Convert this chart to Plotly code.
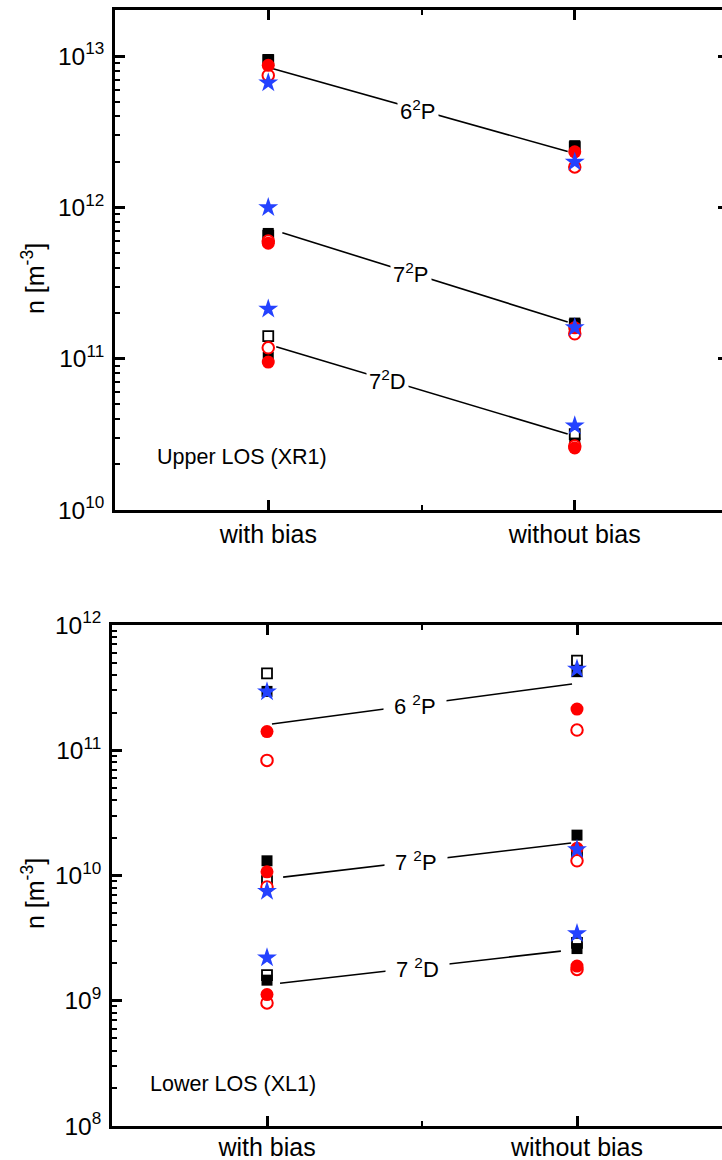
import plotly.graph_objects as go
import numpy as np

# ---------------- data ----------------
categories = ["with bias", "without bias"]
cat_x = [1, 2]
levels = ["6<sup>2</sup>P", "7<sup>2</sup>P", "7<sup>2</sup>D"]
levels_lower = ["6 <sup>2</sup>P", "7 <sup>2</sup>P", "7 <sup>2</sup>D"]

# Upper LOS (XR1): values per series, ordered [6P with, 6P without, 7P with, 7P without, 7D with, 7D without]
up_sq_open   = [9.4e12, 2.50e12, 6.5e11, 1.68e11, 1.41e11, 3.17e10]
up_sq_fill   = [9.5e12, 2.56e12, 6.73e11, 1.72e11, 1.02e11, 2.77e10]
up_ci_open   = [7.45e12, 1.85e12, 6.0e11, 1.46e11, 1.18e11, 2.65e10]
up_ci_fill   = [8.7e12, 2.33e12, 5.8e11, 1.60e11, 9.5e10, 2.57e10]
up_star      = [6.67e12, 2.0e12, 1.0e12, 1.61e11, 2.13e11, 3.6e10]

# Lower LOS (XL1)
lo_sq_open   = [4.11e11, 5.19e11, 9.0e9, 1.55e10, 1.6e9, 2.9e9]
lo_sq_fill   = [2.95e11, 4.24e11, 1.31e10, 2.1e10, 1.46e9, 2.61e9]
lo_ci_open   = [8.3e10, 1.45e11, 8.1e9, 1.31e10, 9.6e8, 1.78e9]
lo_ci_fill   = [1.41e11, 2.13e11, 1.07e10, 1.65e10, 1.12e9, 1.89e9]
lo_star      = [2.93e11, 4.46e11, 7.5e9, 1.61e10, 2.2e9, 3.44e9]

# trend lines [start, end] (x, value)
up_line_x = [[1.013, 1.977], [1.046, 1.977], [1.026, 1.977]]
up_line_y = [[8.29e12, 2.34e12], [6.8e11, 1.75e11], [1.2e11, 3.18e10]]
lo_line_x = [[1.016, 1.984], [1.052, 1.981], [1.042, 1.948]]
lo_line_y = [[1.62e11, 3.38e11], [9.7e9, 1.82e10], [1.38e9, 2.49e9]]
up_label_x = [1.49, 1.466, 1.389]
lo_label_x = [1.477, 1.482, 1.485]

# ---------------- styling ----------------
FONT = "Liberation Sans, Arial, sans-serif"
W, H = 740, 1160
BLUE = "#2442ff"
RED = "#ff0000"

series = [
    ("sq_open", dict(symbol="square", size=10, color="white", line=dict(color="black", width=1.8))),
    ("sq_fill", dict(symbol="square", size=11, color="black", line=dict(width=0))),
    ("ci_open", dict(symbol="circle", size=11.5, color="white", line=dict(color=RED, width=2))),
    ("ci_fill", dict(symbol="circle", size=13, color=RED, line=dict(width=0))),
    ("star", dict(symbol="star", size=15, color=BLUE, line=dict(width=0))),
]
upper = dict(sq_open=up_sq_open, sq_fill=up_sq_fill, ci_open=up_ci_open, ci_fill=up_ci_fill, star=up_star)
lower = dict(sq_open=lo_sq_open, sq_fill=lo_sq_fill, ci_open=lo_ci_open, ci_fill=lo_ci_fill, star=lo_star)

fig = go.Figure()

def add_panel(data, line_x, line_y, xa, ya):
    for lx, ly in zip(line_x, line_y):
        fig.add_trace(go.Scatter(x=lx, y=ly, mode="lines", xaxis=xa, yaxis=ya,
                                 line=dict(color="black", width=1.6), showlegend=False,
                                 hoverinfo="skip"))
    for key, mk in series:
        vals = data[key]
        xs = [cat_x[i % 2] for i in range(len(vals))]
        fig.add_trace(go.Scatter(x=xs, y=vals, mode="markers", xaxis=xa, yaxis=ya,
                                 marker=mk, showlegend=False))

add_panel(upper, up_line_x, up_line_y, "x", "y")
add_panel(lower, lo_line_x, lo_line_y, "x2", "y2")

def label_y(lx, ly, xpos):
    t = (xpos - lx[0]) / (lx[1] - lx[0])
    return np.log10(ly[0]) + t * (np.log10(ly[1]) - np.log10(ly[0]))

annotations = []
for txt, lx, ly, xp in zip(levels, up_line_x, up_line_y, up_label_x):
    annotations.append(dict(x=xp, y=label_y(lx, ly, xp), xref="x", yref="y", text=txt,
                            showarrow=False, bgcolor="white", borderpad=2,
                            font=dict(family=FONT, size=22, color="black")))
for txt, lx, ly, xp in zip(levels_lower, lo_line_x, lo_line_y, lo_label_x):
    annotations.append(dict(x=xp, y=label_y(lx, ly, xp), xref="x2", yref="y2", text=txt,
                            showarrow=False, bgcolor="white", borderpad=10,
                            font=dict(family=FONT, size=22, color="black")))

annotations += [
    dict(x=155 / W, y=1 - 457 / H, xref="paper", yref="paper", xanchor="left", yanchor="middle",
         text="Upper LOS (XR1)", showarrow=False, font=dict(family=FONT, size=21.5, color="black")),
    dict(x=148 / W, y=1 - 1084 / H, xref="paper", yref="paper", xanchor="left", yanchor="middle",
         text="Lower LOS (XL1)", showarrow=False, font=dict(family=FONT, size=21.5, color="black")),
    dict(x=33 / W, y=1 - 279 / H, xref="paper", yref="paper", xanchor="center", yanchor="middle",
         text="n [m<sup>-3</sup>]", textangle=-90, showarrow=False,
         font=dict(family=FONT, size=25, color="black")),
    dict(x=33 / W, y=1 - 894 / H, xref="paper", yref="paper", xanchor="center", yanchor="middle",
         text="n [m<sup>-3</sup>]", textangle=-90, showarrow=False,
         font=dict(family=FONT, size=25, color="black")),
]

def xaxis_cfg(domain, standoff):
    return dict(domain=domain, range=[0.5, 2.5], tickvals=cat_x, ticktext=categories,
                ticks="inside", ticklen=10, tickwidth=2.5, tickcolor="black",
                minor=dict(tickvals=[1.5], ticks="inside", ticklen=5, tickwidth=2, tickcolor="black"),
                showline=True, linewidth=2.7, linecolor="black", mirror="ticks",
                showgrid=False, zeroline=False, ticklabelstandoff=standoff,
                tickfont=dict(family=FONT, size=25, color="black"), automargin=False)

def yaxis_cfg(domain, lo, hi, anchor):
    decades = list(range(int(np.floor(lo)), int(np.ceil(hi)) + 1))
    major = [10.0 ** d for d in decades if lo <= d <= hi]
    minor = [k * 10.0 ** d for d in decades for k in range(2, 10) if np.log10(k * 10.0 ** d) <= hi]
    return dict(domain=domain, type="log", range=[lo, hi], anchor=anchor,
                tickvals=major, ticktext=[f"10<sup>{d}</sup>" for d in decades if lo <= d <= hi],
                ticks="inside", ticklen=10, tickwidth=2.5, tickcolor="black",
                minor=dict(tickvals=minor, ticks="inside", ticklen=5, tickwidth=2, tickcolor="black"),
                showline=True, linewidth=2.7, linecolor="black", mirror="ticks",
                showgrid=False, zeroline=False, ticklabelstandoff=3,
                tickfont=dict(family=FONT, size=24.5, color="black"), automargin=False)

fig.update_layout(
    width=W, height=H, margin=dict(l=0, r=0, t=0, b=0),
    paper_bgcolor="white", plot_bgcolor="white", showlegend=False,
    xaxis=dict(xaxis_cfg([115 / W, 728 / W], 0), anchor="y"),
    yaxis=yaxis_cfg([1 - 510 / H, 1 - 10 / H], 10, 13.305, "x"),
    xaxis2=dict(xaxis_cfg([112 / W, 732 / W], -3), anchor="y2"),
    yaxis2=yaxis_cfg([1 - 1126 / H, 1 - 625 / H], 8, 12, "x2"),
    annotations=annotations,
)

fig.write_html("out.html",
               post_script="document.documentElement.style.overflow='hidden';document.body.style.overflow='hidden';")
